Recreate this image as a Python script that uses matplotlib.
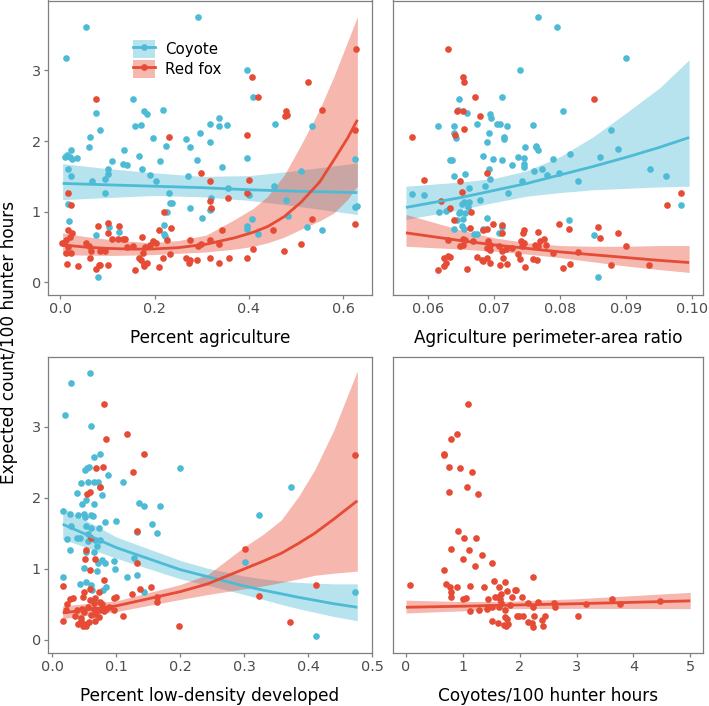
import numpy as np
import matplotlib
matplotlib.use("Agg")
import matplotlib.pyplot as plt
from matplotlib.lines import Line2D
from matplotlib.patches import Patch

COYOTE = "#4DBBD5"
FOX = "#E64B35"
FRAME = "#7F7F7F"
TICK_TEXT = "#4D4D4D"

# observed points, (x, y) per site
agri_coyote = np.array([
    (0.055, 3.62), (0.292, 3.75), (0.012, 3.17), (0.397, 3.01), (0.408, 2.62), (0.155, 2.59),
    (0.062, 2.06), (0.061, 1.92), (0.075, 2.40), (0.084, 2.15), (0.159, 2.21), (0.171, 2.23),
    (0.177, 2.43), (0.183, 2.38), (0.217, 2.44), (0.196, 2.04), (0.225, 1.93), (0.267, 2.03),
    (0.276, 1.92), (0.296, 2.12), (0.317, 2.24), (0.336, 2.32), (0.336, 2.21), (0.354, 2.23),
    (0.318, 1.99), (0.397, 1.76), (0.456, 2.24), (0.533, 2.22), (0.624, 1.75), (0.014, 1.80),
    (0.009, 1.78), (0.020, 1.78), (0.023, 1.87), (0.035, 1.76), (0.024, 1.75), (0.017, 1.60),
    (0.022, 1.51), (0.136, 1.88), (0.134, 1.67), (0.141, 1.66), (0.110, 1.72), (0.102, 1.61),
    (0.102, 1.54), (0.095, 1.46), (0.068, 1.43), (0.167, 1.79), (0.174, 1.61), (0.190, 1.52),
    (0.204, 1.44), (0.211, 1.72), (0.271, 1.50), (0.289, 1.73), (0.342, 1.63), (0.355, 1.34),
    (0.453, 1.37), (0.510, 1.58), (0.230, 1.26), (0.233, 1.12), (0.237, 1.12), (0.226, 1.00),
    (0.320, 1.20), (0.317, 1.02), (0.320, 1.04), (0.300, 0.91), (0.276, 1.05), (0.397, 0.80),
    (0.396, 0.75), (0.400, 1.24), (0.406, 0.89), (0.420, 0.68), (0.478, 1.16), (0.482, 0.94),
    (0.524, 0.78), (0.555, 0.74), (0.624, 1.07), (0.630, 1.08), (0.016, 1.11), (0.018, 0.87),
    (0.094, 1.27), (0.104, 0.78), (0.124, 0.71), (0.075, 0.67), (0.080, 0.07), (0.219, 0.81),
    (0.219, 0.68), (0.222, 0.65),
])
agri_fox = np.array([
    (0.628, 3.31), (0.406, 2.90), (0.525, 2.83), (0.075, 2.60), (0.420, 2.62), (0.478, 2.42),
    (0.481, 2.37), (0.476, 2.36), (0.555, 2.44), (0.231, 2.06), (0.397, 2.09), (0.625, 2.16),
    (0.299, 1.55), (0.317, 1.44), (0.400, 1.45), (0.017, 1.27), (0.022, 1.10), (0.317, 1.15),
    (0.320, 1.05), (0.355, 1.20), (0.397, 1.27), (0.219, 1.00), (0.102, 0.84), (0.102, 0.70),
    (0.124, 0.80), (0.081, 0.79), (0.210, 0.74), (0.235, 0.77), (0.226, 0.60), (0.342, 0.74),
    (0.452, 0.74), (0.534, 0.89), (0.624, 0.82), (0.510, 0.54), (0.475, 0.44), (0.408, 0.47),
    (0.397, 0.35), (0.357, 0.34), (0.336, 0.27), (0.317, 0.35), (0.317, 0.60), (0.337, 0.54),
    (0.298, 0.54), (0.292, 0.51), (0.276, 0.60), (0.267, 0.35), (0.272, 0.27), (0.289, 0.32),
    (0.275, 0.32), (0.233, 0.40), (0.217, 0.35), (0.210, 0.22), (0.197, 0.59), (0.204, 0.56),
    (0.190, 0.53), (0.174, 0.64), (0.179, 0.50), (0.175, 0.42), (0.178, 0.23), (0.171, 0.32),
    (0.183, 0.27), (0.177, 0.26), (0.167, 0.34), (0.159, 0.18), (0.155, 0.51), (0.142, 0.50),
    (0.134, 0.61), (0.137, 0.61), (0.122, 0.62), (0.110, 0.61), (0.094, 0.45), (0.085, 0.44),
    (0.082, 0.25), (0.084, 0.24), (0.075, 0.19), (0.066, 0.44), (0.060, 0.51), (0.055, 0.56),
    (0.063, 0.35), (0.037, 0.23), (0.102, 0.24), (0.007, 0.55), (0.013, 0.60), (0.020, 0.64),
    (0.016, 0.50), (0.013, 0.41), (0.022, 0.42), (0.016, 0.74), (0.024, 0.70), (0.015, 0.26),
    (0.003, 0.56),
])

perim_coyote = np.array([
    (0.0767, 3.75), (0.0796, 3.62), (0.0900, 3.17), (0.0740, 3.01), (0.0712, 2.62), (0.0647, 2.59),
    (0.0804, 2.43), (0.0646, 2.44), (0.0660, 2.40), (0.0694, 2.38), (0.0696, 2.32), (0.0616, 2.21),
    (0.0639, 2.22), (0.0675, 2.24), (0.0705, 2.24), (0.0709, 2.24), (0.0720, 2.21), (0.0759, 2.23),
    (0.0640, 2.12), (0.0642, 2.04), (0.0692, 2.12), (0.0690, 1.99), (0.0715, 2.06), (0.0715, 2.03),
    (0.0877, 2.15), (0.0747, 1.92), (0.0764, 1.92), (0.0766, 1.88), (0.0763, 1.93), (0.0888, 1.89),
    (0.0684, 1.79), (0.0699, 1.74), (0.0712, 1.73), (0.0736, 1.77), (0.0745, 1.76), (0.0745, 1.67),
    (0.0745, 1.63), (0.0727, 1.66), (0.0633, 1.73), (0.0637, 1.73), (0.0815, 1.81), (0.0861, 1.77),
    (0.0789, 1.74), (0.0773, 1.61), (0.0761, 1.58), (0.0780, 1.52), (0.0799, 1.55), (0.0936, 1.61),
    (0.0960, 1.51), (0.0640, 1.51), (0.0656, 1.54), (0.0692, 1.60), (0.0694, 1.46), (0.0742, 1.44),
    (0.0827, 1.44), (0.0687, 1.37), (0.0663, 1.34), (0.0722, 1.27), (0.0576, 1.25), (0.0595, 1.24),
    (0.0679, 1.16), (0.0651, 1.11), (0.0655, 1.14), (0.0663, 1.14), (0.0661, 1.07), (0.0628, 1.01),
    (0.0617, 0.99), (0.0632, 1.04), (0.0649, 1.00), (0.0983, 1.10), (0.0657, 0.98), (0.0647, 0.98),
    (0.0644, 0.88), (0.0689, 0.91), (0.0653, 0.90), (0.0813, 0.88), (0.0652, 0.80), (0.0655, 0.75),
    (0.0640, 0.75), (0.0670, 0.68), (0.0675, 0.68), (0.0683, 0.76), (0.0707, 0.70), (0.0712, 0.78),
    (0.0851, 0.67), (0.0857, 0.07),
])
perim_fox = np.array([
    (0.0630, 3.31), (0.0653, 2.91), (0.0655, 2.84), (0.0851, 2.60), (0.0671, 2.62), (0.0644, 2.42),
    (0.0653, 2.43), (0.0679, 2.36), (0.0655, 2.17), (0.0641, 2.08), (0.0576, 2.06), (0.0689, 1.55),
    (0.0595, 1.45), (0.0649, 1.44), (0.0651, 1.28), (0.0620, 1.15), (0.0633, 1.05), (0.0666, 1.00),
    (0.0983, 1.27), (0.0961, 1.10), (0.0639, 0.88), (0.0664, 0.77), (0.0683, 0.74), (0.0689, 0.75),
    (0.0698, 0.83), (0.0712, 0.81), (0.0712, 0.70), (0.0745, 0.74), (0.0744, 0.70), (0.0766, 0.71),
    (0.0799, 0.83), (0.0813, 0.76), (0.0857, 0.78), (0.0861, 0.63), (0.0888, 0.70), (0.0900, 0.52),
    (0.0631, 0.60), (0.0653, 0.62), (0.0657, 0.60), (0.0648, 0.52), (0.0654, 0.53), (0.0669, 0.59),
    (0.0691, 0.59), (0.0694, 0.53), (0.0694, 0.46), (0.0690, 0.49), (0.0707, 0.51), (0.0712, 0.45),
    (0.0719, 0.47), (0.0727, 0.48), (0.0741, 0.59), (0.0745, 0.56), (0.0743, 0.51), (0.0762, 0.53),
    (0.0767, 0.51), (0.0770, 0.59), (0.0776, 0.62), (0.0779, 0.53), (0.0790, 0.41), (0.0827, 0.43),
    (0.0625, 0.35), (0.0630, 0.37), (0.0634, 0.36), (0.0628, 0.27), (0.0624, 0.23), (0.0616, 0.18),
    (0.0660, 0.19), (0.0675, 0.36), (0.0682, 0.32), (0.0690, 0.35), (0.0694, 0.27), (0.0684, 0.30),
    (0.0709, 0.24), (0.0720, 0.26), (0.0714, 0.34), (0.0736, 0.40), (0.0739, 0.33), (0.0747, 0.22),
    (0.0759, 0.33), (0.0765, 0.31), (0.0804, 0.20), (0.0815, 0.26), (0.0877, 0.25), (0.0935, 0.25),
])

lowdev_coyote = np.array([
    (0.059, 3.76), (0.029, 3.62), (0.020, 3.17), (0.061, 3.01), (0.065, 2.58), (0.074, 2.62),
    (0.051, 2.40), (0.054, 2.42), (0.057, 2.44), (0.199, 2.42), (0.087, 2.32), (0.110, 2.23),
    (0.044, 2.21), (0.056, 2.23), (0.065, 2.22), (0.071, 2.23), (0.074, 2.15), (0.038, 2.07),
    (0.078, 2.04), (0.373, 2.16), (0.046, 1.92), (0.052, 1.97), (0.065, 1.92), (0.136, 1.93),
    (0.143, 1.89), (0.168, 1.88), (0.016, 1.81), (0.028, 1.78), (0.040, 1.76), (0.049, 1.78),
    (0.051, 1.73), (0.060, 1.76), (0.063, 1.74), (0.099, 1.67), (0.082, 1.66), (0.029, 1.60),
    (0.053, 1.60), (0.056, 1.49), (0.061, 1.58), (0.073, 1.57), (0.155, 1.63), (0.164, 1.51),
    (0.132, 1.52), (0.323, 1.76), (0.022, 1.42), (0.038, 1.43), (0.043, 1.44), (0.056, 1.39),
    (0.066, 1.41), (0.070, 1.33), (0.074, 1.41), (0.027, 1.27), (0.053, 1.24), (0.065, 1.24),
    (0.072, 1.09), (0.077, 1.12), (0.082, 1.09), (0.096, 1.11), (0.098, 1.00), (0.127, 1.16),
    (0.070, 0.97), (0.049, 1.02), (0.116, 0.89), (0.132, 0.91), (0.301, 1.10), (0.017, 0.88),
    (0.043, 0.79), (0.052, 0.82), (0.060, 0.77), (0.083, 0.75), (0.079, 0.71), (0.062, 0.71),
    (0.143, 0.67), (0.474, 0.67), (0.413, 0.06),
])
lowdev_fox = np.array([
    (0.081, 3.32), (0.084, 2.83), (0.116, 2.90), (0.143, 2.62), (0.474, 2.60), (0.068, 2.42),
    (0.079, 2.43), (0.126, 2.36), (0.075, 2.16), (0.054, 2.06), (0.059, 2.09), (0.132, 1.54),
    (0.060, 1.44), (0.052, 1.27), (0.301, 1.28), (0.066, 1.14), (0.132, 1.09), (0.051, 1.14),
    (0.059, 0.98), (0.137, 0.72), (0.154, 0.74), (0.081, 0.84), (0.413, 0.78), (0.323, 0.62),
    (0.016, 0.76), (0.164, 0.61), (0.164, 0.53), (0.125, 0.64), (0.096, 0.59), (0.099, 0.60),
    (0.073, 0.67), (0.059, 0.72), (0.050, 0.67), (0.066, 0.59), (0.075, 0.54), (0.078, 0.51),
    (0.027, 0.58), (0.032, 0.59), (0.023, 0.51), (0.021, 0.42), (0.039, 0.42), (0.046, 0.44),
    (0.049, 0.40), (0.056, 0.46), (0.065, 0.44), (0.073, 0.42), (0.083, 0.44), (0.088, 0.46),
    (0.097, 0.42), (0.110, 0.34), (0.036, 0.34), (0.044, 0.27), (0.052, 0.23), (0.040, 0.23),
    (0.047, 0.19), (0.053, 0.20), (0.057, 0.25), (0.066, 0.26), (0.073, 0.32), (0.016, 0.26),
    (0.198, 0.20), (0.371, 0.25), (0.066, 0.37), (0.081, 0.41), (0.047, 0.60), (0.058, 0.56),
    (0.065, 0.52), (0.045, 0.31), (0.061, 0.35),
])

coy_rate_fox = np.array([
    (1.09, 3.32), (0.79, 2.83), (0.90, 2.90), (0.67, 2.62), (0.67, 2.60), (0.75, 2.43),
    (0.95, 2.42), (1.16, 2.36), (0.76, 2.08), (1.07, 2.16), (1.26, 2.06), (0.92, 1.54),
    (1.02, 1.43), (1.24, 1.44), (0.80, 1.28), (1.11, 1.27), (1.00, 1.14), (1.34, 1.19),
    (1.21, 1.04), (1.51, 1.09), (0.67, 0.99), (2.23, 0.89), (0.07, 0.78), (0.70, 0.79),
    (0.77, 0.75), (0.89, 0.75), (0.79, 0.67), (0.80, 0.61), (1.13, 0.76), (1.37, 0.74),
    (1.55, 0.83), (1.75, 0.82), (1.63, 0.74), (1.77, 0.69), (1.91, 0.70), (1.94, 0.71),
    (1.86, 0.60), (2.04, 0.60), (1.57, 0.60), (1.68, 0.64), (1.61, 0.60), (1.65, 0.58),
    (1.00, 0.58), (1.06, 0.59), (1.45, 0.57), (1.67, 0.52), (2.14, 0.52), (2.32, 0.54),
    (2.61, 0.52), (2.63, 0.46), (3.17, 0.51), (3.62, 0.57), (3.76, 0.50), (4.46, 0.55),
    (1.45, 0.46), (1.51, 0.47), (1.42, 0.44), (1.63, 0.46), (1.12, 0.41), (1.28, 0.42),
    (1.75, 0.42), (2.24, 0.46), (1.83, 0.49), (1.74, 0.32), (1.78, 0.30), (1.95, 0.33),
    (1.99, 0.34), (2.05, 0.34), (2.25, 0.34), (2.45, 0.34), (3.02, 0.34), (2.39, 0.28),
    (1.51, 0.26), (1.61, 0.24), (1.73, 0.21), (1.76, 0.20), (1.80, 0.22), (2.15, 0.25),
    (2.21, 0.24), (2.23, 0.18), (2.41, 0.19),
])

# model predictions with confidence bands
agri_coy_x = [0.005, 0.1, 0.2, 0.3, 0.4, 0.5, 0.63]
agri_coy_fit = [1.40, 1.38, 1.36, 1.34, 1.31, 1.29, 1.27]
agri_coy_lo = [1.17, 1.20, 1.23, 1.21, 1.16, 1.08, 0.96]
agri_coy_hi = [1.68, 1.61, 1.55, 1.50, 1.51, 1.58, 1.69]

agri_fox_x = [0.005, 0.05, 0.1, 0.15, 0.19, 0.25, 0.31, 0.37, 0.41, 0.44, 0.475, 0.51,
              0.55, 0.58, 0.61, 0.63]
agri_fox_fit = [0.53, 0.50, 0.48, 0.47, 0.47, 0.49, 0.54, 0.63, 0.71, 0.79, 0.93, 1.13,
                1.42, 1.73, 2.05, 2.30]
agri_fox_lo = [0.39, 0.385, 0.38, 0.385, 0.39, 0.41, 0.43, 0.47, 0.51, 0.56, 0.64, 0.75,
               0.87, 0.98, 1.18, 1.36]
agri_fox_hi = [0.70, 0.65, 0.61, 0.58, 0.56, 0.59, 0.67, 0.89, 1.05, 1.22, 1.52, 1.94,
               2.45, 2.91, 3.42, 3.76]

perim_x = [0.0567, 0.065, 0.070, 0.075, 0.080, 0.085, 0.090, 0.095, 0.0995]
perim_coy_fit = [1.06, 1.20, 1.30, 1.40, 1.52, 1.64, 1.77, 1.91, 2.05]
perim_coy_lo = [0.89, 1.03, 1.13, 1.22, 1.27, 1.31, 1.33, 1.35, 1.36]
perim_coy_hi = [1.36, 1.42, 1.47, 1.58, 1.78, 2.06, 2.40, 2.75, 3.15]
perim_fox_fit = [0.70, 0.59, 0.53, 0.48, 0.43, 0.39, 0.35, 0.31, 0.28]
perim_fox_lo = [0.51, 0.47, 0.44, 0.40, 0.35, 0.29, 0.23, 0.18, 0.14]
perim_fox_hi = [0.96, 0.74, 0.63, 0.56, 0.52, 0.51, 0.51, 0.52, 0.52]

lowdev_x = [0.016, 0.1, 0.2, 0.243, 0.3, 0.33, 0.358, 0.385, 0.41, 0.44, 0.477]
lowdev_coy_fit = [1.63, 1.30, 0.99, 0.89, 0.76, 0.70, 0.65, 0.60, 0.56, 0.51, 0.46]
lowdev_coy_lo = [1.42, 1.15, 0.86, 0.77, 0.64, 0.57, 0.50, 0.44, 0.39, 0.33, 0.27]
lowdev_coy_hi = [1.86, 1.45, 1.12, 1.01, 0.90, 0.86, 0.83, 0.81, 0.80, 0.79, 0.79]
lowdev_fox_fit = [0.38, 0.48, 0.68, 0.79, 1.00, 1.11, 1.22, 1.36, 1.50, 1.70, 1.96]
lowdev_fox_lo = [0.30, 0.40, 0.57, 0.64, 0.72, 0.76, 0.81, 0.86, 0.91, 0.94, 0.97]
lowdev_fox_hi = [0.48, 0.55, 0.78, 0.92, 1.31, 1.49, 1.69, 2.02, 2.39, 2.95, 3.79]

coy_rate_x = [0.0, 1.0, 1.8, 3.0, 5.0]
coy_rate_fox_fit = [0.46, 0.475, 0.49, 0.51, 0.55]
coy_rate_fox_lo = [0.38, 0.41, 0.44, 0.445, 0.44]
coy_rate_fox_hi = [0.56, 0.54, 0.545, 0.58, 0.67]

plt.rcParams["font.family"] = ["DejaVu Sans"]

W, H = 709, 706
fig = plt.figure(figsize=(W / 100, H / 100), dpi=100)


def box(x0, y0, x1, y1):
    # pixel box (top-left origin) -> figure fraction rect
    return [x0 / W, 1 - y1 / H, (x1 - x0) / W, (y1 - y0) / H]


panels = [
    dict(rect=box(48, 0.5, 372, 295), xlim=(-0.026, 0.661), ticks=[0, 0.2, 0.4, 0.6],
         labels=["0.0", "0.2", "0.4", "0.6"], title="Percent agriculture", base=343.3,
         yticks=True,
         coy=(agri_coyote, agri_coy_x, agri_coy_fit, agri_coy_lo, agri_coy_hi),
         fox=(agri_fox, agri_fox_x, agri_fox_fit, agri_fox_lo, agri_fox_hi)),
    dict(rect=box(392.7, 0.5, 703, 295), xlim=(0.0547, 0.1016), ticks=[0.06, 0.07, 0.08, 0.09, 0.10],
         labels=["0.06", "0.07", "0.08", "0.09", "0.10"], title="Agriculture perimeter-area ratio",
         base=343.3, yticks=False,
         coy=(perim_coyote, perim_x, perim_coy_fit, perim_coy_lo, perim_coy_hi),
         fox=(perim_fox, perim_x, perim_fox_fit, perim_fox_lo, perim_fox_hi)),
    dict(rect=box(48, 356.7, 372, 652.7), xlim=(-0.007, 0.50), ticks=[0, 0.1, 0.2, 0.3, 0.4, 0.5],
         labels=["0.0", "0.1", "0.2", "0.3", "0.4", "0.5"], title="Percent low-density developed",
         base=700.7, yticks=True,
         coy=(lowdev_coyote, lowdev_x, lowdev_coy_fit, lowdev_coy_lo, lowdev_coy_hi),
         fox=(lowdev_fox, lowdev_x, lowdev_fox_fit, lowdev_fox_lo, lowdev_fox_hi)),
    dict(rect=box(392.7, 356.7, 703, 652.7), xlim=(-0.234, 5.225), ticks=[0, 1, 2, 3, 4, 5],
         labels=["0", "1", "2", "3", "4", "5"], title="Coyotes/100 hunter hours",
         base=700.7, yticks=False,
         coy=None,
         fox=(coy_rate_fox, coy_rate_x, coy_rate_fox_fit, coy_rate_fox_lo, coy_rate_fox_hi)),
]

for i, p in enumerate(panels):
    ax = fig.add_axes(p["rect"])
    layers = [(layer, color) for layer, color in ((p["coy"], COYOTE), (p["fox"], FOX))
              if layer is not None]

    # ribbons, then points, then fitted lines
    for (pts, fx, fit, lo, hi), color in layers:
        ax.fill_between(fx, lo, hi, color=color, alpha=0.4, linewidth=0, zorder=1)
    for (pts, fx, fit, lo, hi), color in layers:
        ax.plot(pts[:, 0], pts[:, 1], "o", color=color, markersize=4.8,
                markeredgewidth=0, zorder=2)
    for (pts, fx, fit, lo, hi), color in layers:
        ax.plot(fx, fit, color=color, linewidth=2.0, solid_capstyle="butt", zorder=3)

    ax.set_xlim(*p["xlim"])
    ax.set_ylim(-0.18, 3.99)
    ax.set_xticks(p["ticks"])
    ax.set_xticklabels(p["labels"])
    if p["yticks"]:
        ax.set_yticks([0, 1, 2, 3])
        ax.set_yticklabels(["0", "1", "2", "3"])
    else:
        ax.set_yticks([])
    for spine in ax.spines.values():
        spine.set_color(FRAME)
        spine.set_linewidth(0.9)
    ax.tick_params(colors=FRAME, labelcolor=TICK_TEXT, labelsize=10.4, length=3,
                   width=0.9, pad=2)

    x0, y0, w, h = p["rect"]
    fig.text(x0 + w / 2, 1 - p["base"] / H, p["title"], fontsize=12.2,
             ha="center", va="baseline")

    if i == 0:
        handles = [
            (Patch(facecolor=COYOTE, alpha=0.4, linewidth=0),
             Line2D([], [], color=COYOTE, linewidth=2.0, marker="o", markersize=4.8,
                    markeredgewidth=0)),
            (Patch(facecolor=FOX, alpha=0.4, linewidth=0),
             Line2D([], [], color=FOX, linewidth=2.0, marker="o", markersize=4.8,
                    markeredgewidth=0)),
        ]
        ax.legend(handles, ["Coyote", "Red fox"], loc="upper left",
                  bbox_to_anchor=(0.263, 0.866), frameon=False, fontsize=10.8,
                  borderpad=0, borderaxespad=0, handlelength=1.45, handleheight=1.45,
                  labelspacing=0.17, handletextpad=0.67, numpoints=1)

fig.text(9 / W, 1 - 342 / H, "Expected count/100 hunter hours", rotation=90,
         fontsize=12.2, ha="center", va="center")

fig.savefig("out.png", dpi=100)
